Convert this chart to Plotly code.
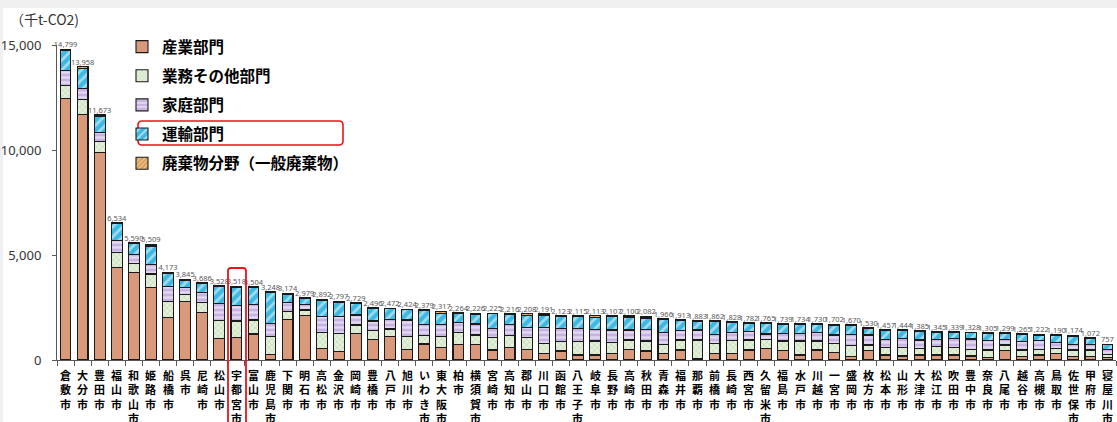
import plotly.graph_objects as go

# ---- data (千t-CO2) ----
cities = ["倉敷市", "大分市", "豊田市", "福山市", "和歌山市", "姫路市", "船橋市", "呉市",
          "尼崎市", "松山市", "宇都宮市", "富山市", "鹿児島市", "下関市", "明石市", "高松市",
          "金沢市", "岡崎市", "豊橋市", "八戸市", "旭川市", "いわき市", "東大阪市", "柏市",
          "横須賀市", "宮崎市", "高知市", "郡山市", "川口市", "函館市", "八王子市", "岐阜市",
          "長野市", "高崎市", "秋田市", "青森市", "福井市", "那覇市", "前橋市", "長崎市",
          "西宮市", "久留米市", "福島市", "水戸市", "川越市", "一宮市", "盛岡市", "枚方市",
          "松本市", "山形市", "大津市", "松江市", "吹田市", "豊中市", "奈良市", "八尾市",
          "越谷市", "高槻市", "鳥取市", "佐世保市", "甲府市", "寝屋川市"]

industry = [12470, 11710, 9890, 4400, 4170, 3460, 2030, 2800, 2250, 1030, 1080, 1240,
            270, 1935, 2110, 555, 400, 1270, 985, 1110, 510, 760, 600, 745, 745, 475,
            590, 510, 320, 430, 240, 240, 290, 510, 430, 290, 476, 80, 320, 320, 476,
            555, 444, 240, 476, 350, 160, 444, 240, 190, 240, 240, 240, 190, 127, 444,
            159, 240, 317, 160, 160, 110]
business = [620, 680, 520, 700, 410, 634, 740, 320, 490, 840, 776, 666, 840, 365, 270,
            762, 870, 396, 428, 366, 600, 396, 507, 555, 444, 600, 570, 553, 476, 444,
            634, 666, 540, 444, 476, 428, 476, 872, 476, 600, 476, 430, 460, 666, 428,
            444, 522, 270, 365, 413, 317, 397, 365, 318, 349, 270, 317, 270, 238, 317,
            317, 150]
household = [700, 520, 440, 600, 430, 461, 720, 330, 480, 830, 731, 746, 635, 430, 270,
             746, 790, 476, 444, 459, 795, 540, 588, 492, 524, 430, 540, 492, 760, 635,
             635, 556, 600, 476, 556, 603, 444, 476, 430, 380, 400, 254, 366, 366, 397,
             397, 540, 476, 380, 428, 397, 350, 428, 492, 444, 270, 400, 412, 285, 270,
             270, 240]
transport = [950, 990, 770, 790, 530, 875, 610, 360, 420, 800, 851, 802, 1460, 410, 300,
             790, 700, 560, 600, 500, 480, 650, 540, 440, 480, 690, 485, 580, 560, 580,
             575, 570, 630, 620, 540, 610, 485, 420, 600, 495, 395, 490, 435, 430, 395,
             475, 415, 310, 440, 380, 400, 330, 275, 295, 350, 285, 355, 270, 320, 395,
             295, 230]
waste = [59, 58, 53, 44, 50, 79, 73, 35, 46, 28, 80, 50, 43, 34, 29, 39, 37, 27, 39, 37,
         39, 33, 82, 32, 33, 30, 31, 73, 75, 34, 31, 81, 47, 50, 80, 35, 32, 35, 36, 33,
         35, 36, 34, 32, 34, 36, 33, 30, 32, 33, 31, 28, 31, 33, 35, 30, 34, 30, 30, 32,
         30, 27]

y_ticks = [0, 5000, 10000, 15000]
y_tick_text = ["0", "5,000", "10,000", "15,000"]
unit_label = "（千t-CO2)"

# ---- canvas geometry (pixels) ----
W, H = 1117, 422
L, R, T, B = 57, 1, 45, 62
PW, PH = W - L - R, H - T - B


def fx(p):
    return (p - L) / PW


def fy(p):
    return (H - B - p) / PH


def rounded_rect(x0, y0, x1, y1, r):
    """SVG path of a rounded rectangle given in pixels, expressed in paper units."""
    rx, ry = r / PW, r / PH
    a, b, c, d = fx(x0), fx(x1), fy(y0), fy(y1)   # c = top, d = bottom
    return (f"M{a + rx},{c} L{b - rx},{c} Q{b},{c} {b},{c - ry} "
            f"L{b},{d + ry} Q{b},{d} {b - rx},{d} L{a + rx},{d} "
            f"Q{a},{d} {a},{d + ry} L{a},{c - ry} Q{a},{c} {a + rx},{c} Z")


JP = "Noto Sans CJK JP"
OUTLINE = dict(color="#1a1a1a", width=1.1)

series = [
    ("産業部門", industry, dict(shape="", bgcolor="#D99A7B", fgcolor="#D99A7B")),
    ("業務その他部門", business, dict(shape="x", bgcolor="#E3F0DA", fgcolor="#A8C79C", size=4, solidity=0.35)),
    ("家庭部門", household, dict(shape="-", bgcolor="#C7B3E2", fgcolor="#FFFFFF", size=5, solidity=0.45)),
    ("運輸部門", transport, dict(shape="/", bgcolor="#3DB8E2", fgcolor="#FFFFFF", size=7, solidity=0.4)),
    ("廃棄物分野（一般廃棄物）", waste, dict(shape="/", bgcolor="#F2C07E", fgcolor="#9A6430", size=4, solidity=0.4)),
]

fig = go.Figure()
for i, (name, vals, pat) in enumerate(series):
    fig.add_trace(go.Bar(
        x=cities, y=vals, name=name, legendgroup=f"g{i}",
        marker=dict(color=pat["bgcolor"], line=OUTLINE, pattern=pat),
        hoverinfo="skip",
    ))

totals = [a + b + c + d + e for a, b, c, d, e in zip(industry, business, household, transport, waste)]
fig.add_trace(go.Scatter(
    x=cities, y=totals, mode="text", text=[f"{v:,}" for v in totals],
    textposition="top center", textfont=dict(size=7.5, color="#595959", family="Noto Sans"),
    showlegend=False, cliponaxis=False, hoverinfo="skip",
))

# vertical city names, one character per line
annotations = []
for c in cities:
    annotations.append(dict(
        x=c, y=0, xref="x", yref="y", text="<br>".join(c), showarrow=False,
        yanchor="top", xanchor="center", yshift=-5, align="center",
        font=dict(family=JP, size=11, color="#000000", weight="bold"),
    ))

annotations.append(dict(
    x=fx(8), y=fy(19), xref="paper", yref="paper", text=unit_label, showarrow=False,
    xanchor="left", yanchor="middle", font=dict(family=JP, size=14, color="#333333"),
))

shapes = [
    dict(type="rect", xref="paper", yref="paper", x0=fx(3), x1=fx(W + 2), y0=fy(H + 2), y1=fy(8),
         fillcolor="#FFFFFF", line=dict(width=0), layer="below"),
    dict(type="path", xref="paper", yref="paper", path=rounded_rect(138, 121, 343, 145, 4),
         line=dict(color="#E8141C", width=1.6)),
    dict(type="path", xref="paper", yref="paper", path=rounded_rect(228, 268, 246, 430, 3),
         line=dict(color="#E8141C", width=1.8)),
]

fig.update_layout(
    width=W, height=H,
    margin=dict(l=L, r=R, t=T, b=B),
    paper_bgcolor="#F0F0F0", plot_bgcolor="rgba(0,0,0,0)",
    barmode="stack", bargap=0.37,
    showlegend=True,
    legend=dict(
        x=fx(122), y=fy(30), xanchor="left", yanchor="top",
        traceorder="grouped", tracegroupgap=6, bgcolor="rgba(0,0,0,0)",
        font=dict(family=JP, size=15.5, color="#000000", weight="bold"),
        itemclick=False, itemdoubleclick=False,
    ),
    xaxis=dict(
        type="category", range=[-0.5, len(cities) - 0.5],
        showticklabels=False, ticks="outside", tickson="boundaries", ticklen=5,
        tickcolor="#595959", showline=True, linecolor="#595959", linewidth=1,
        showgrid=False, zeroline=False, fixedrange=True,
    ),
    yaxis=dict(
        range=[0, 15000], tickvals=y_ticks, ticktext=y_tick_text,
        ticks="outside", ticklen=4, tickcolor="#595959", ticklabelstandoff=8,
        showline=True, linecolor="#595959", linewidth=1,
        showgrid=False, zeroline=False, fixedrange=True,
        tickfont=dict(family="Noto Sans", size=13, color="#333333"),
    ),
    annotations=annotations,
    shapes=shapes,
)

fig.write_html("out.html")
